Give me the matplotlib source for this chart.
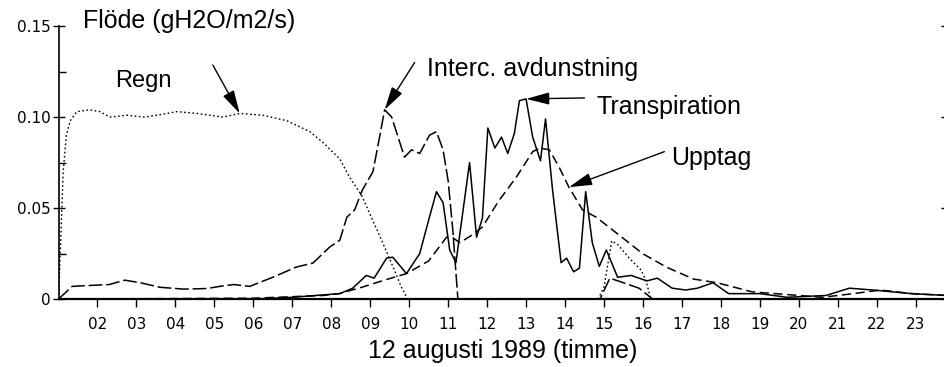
import matplotlib
matplotlib.use('Agg')
import matplotlib.pyplot as plt
from matplotlib.ticker import MultipleLocator

# hourly fluxes, 12 August 1989 (gH2O/m2/s)
rain_h = [1.0, 1.06, 1.12, 1.2, 1.3, 1.47, 1.8, 2.06, 2.32, 2.76, 3.2, 3.53, 4.04, 4.55,
          5.22, 5.65, 6.25, 6.86, 7.45, 7.79, 8.22, 8.47, 8.78, 9.07, 9.32, 9.58, 9.8, 9.96,
          14.85, 15.0, 15.2, 15.35, 15.65, 15.95, 16.08, 16.2]
rain_v = [0.0, 0.035, 0.07, 0.09, 0.098, 0.103, 0.104, 0.103, 0.100, 0.101, 0.100, 0.101, 0.103, 0.102,
          0.100, 0.102, 0.101, 0.098, 0.092, 0.086, 0.077, 0.067, 0.057, 0.043, 0.031, 0.018, 0.0066, 0.0,
          0.0, 0.0066, 0.032, 0.030, 0.0225, 0.016, 0.010, 0.0]

interc_h = [1.0, 1.35, 1.8, 2.3, 2.7, 3.1, 3.6, 4.2, 4.8, 5.2, 5.5, 5.91, 6.5, 7.1, 7.53,
            7.96, 8.22, 8.4, 8.6, 8.8, 9.07, 9.24, 9.37, 9.55, 9.88, 10.06, 10.27, 10.52, 10.7,
            10.87, 11.0, 11.12, 11.25, 14.9, 15.15, 15.5, 15.9, 16.25]
interc_v = [0.0, 0.007, 0.0075, 0.008, 0.0104, 0.009, 0.0065, 0.0055, 0.0058, 0.0072, 0.008, 0.007, 0.012, 0.0176, 0.0198,
            0.0286, 0.0324, 0.045, 0.049, 0.060, 0.070, 0.089, 0.104, 0.100, 0.078, 0.082, 0.080, 0.090, 0.092,
            0.082, 0.065, 0.038, 0.0, 0.0, 0.0115, 0.009, 0.006, 0.0]

transp_h = [1.0, 6.0, 7.0, 7.6, 8.22, 8.55, 8.9, 9.1, 9.42, 9.58, 9.93, 10.27, 10.52, 10.7,
            10.87, 11.04, 11.2, 11.55, 11.73, 11.88, 12.02, 12.2, 12.37, 12.53, 12.7, 12.83, 13.0,
            13.17, 13.37, 13.5, 13.68, 13.9, 14.04, 14.22, 14.37, 14.53, 14.7, 14.88, 15.06, 15.35,
            15.7, 16.1, 16.37, 16.75, 17.1, 17.4, 17.8, 18.2, 19.0, 19.7, 20.7, 21.3, 21.9, 22.9, 23.8]
transp_v = [0.0, 0.0, 0.001, 0.002, 0.003, 0.006, 0.013, 0.0115, 0.0225, 0.023, 0.014, 0.025, 0.045, 0.059,
            0.053, 0.027, 0.020, 0.075, 0.034, 0.0445, 0.094, 0.083, 0.089, 0.080, 0.091, 0.109, 0.110,
            0.089, 0.076, 0.099, 0.060, 0.020, 0.0225, 0.015, 0.017, 0.059, 0.031, 0.018, 0.027, 0.012,
            0.013, 0.010, 0.0115, 0.006, 0.005, 0.006, 0.009, 0.003, 0.003, 0.001, 0.002, 0.006, 0.005, 0.003, 0.002]

uptake_h = [1.0, 6.0, 7.2, 7.8, 8.2, 8.8, 9.3, 9.93, 10.5, 10.96, 11.1, 11.3, 11.6, 11.88, 12.3,
            12.75, 13.17, 13.35, 13.6, 13.86, 14.1, 14.45, 14.8, 15.4, 15.99, 16.6, 17.3, 17.9, 18.8,
            20.0, 20.6, 21.4, 22.1, 22.9, 23.8]
uptake_v = [0.0, 0.0005, 0.0015, 0.002, 0.003, 0.0066, 0.010, 0.014, 0.021, 0.034, 0.034, 0.031, 0.035, 0.0396, 0.054,
            0.067, 0.081, 0.083, 0.082, 0.072, 0.0615, 0.049, 0.045, 0.035, 0.025, 0.0176, 0.011, 0.009, 0.004,
            0.002, 0.001, 0.003, 0.005, 0.003, 0.002]

hours = list(range(2, 24))
hour_labels = [f'{h:02d}' for h in hours]

txt_font = 'Liberation Sans'
tick_font = 'DejaVu Sans'

fig = plt.figure(figsize=(9.44, 3.67), dpi=100)
ax = fig.add_axes([0.062, 0.185, 0.941, 0.744])

ax.plot(rain_h, rain_v, color='black', lw=1.0, linestyle=(0, (1.2, 1.8)))
ax.plot(interc_h, interc_v, color='black', lw=1.1, linestyle=(0, (9, 2.5)))
ax.plot(transp_h, transp_v, color='black', lw=1.1, linestyle='-')
ax.plot(uptake_h, uptake_v, color='black', lw=1.1, linestyle=(0, (6, 3)))

ax.set_xlim(1, 23.8)
ax.set_ylim(0, 0.15)

ax.spines['top'].set_visible(False)
ax.spines['right'].set_visible(False)
ax.spines['left'].set_linewidth(1.2)
ax.spines['bottom'].set_linewidth(1.6)

ax.set_xticks(hours)
ax.set_xticklabels(hour_labels, fontfamily=tick_font, fontsize=11)
ax.tick_params(axis='x', direction='out', length=6, width=1, pad=7)

ax.set_yticks([0, 0.05, 0.10, 0.15])
ax.set_yticklabels(['0', '0.05', '0.10', '0.15'], fontfamily=tick_font, fontsize=11)
ax.yaxis.set_minor_locator(MultipleLocator(0.025))
ax.tick_params(axis='y', which='major', direction='inout', length=9, width=1, pad=1,
               right=True)
ax.tick_params(axis='y', which='minor', direction='in', length=5, width=1)

ax.set_xlabel('12 augusti 1989 (timme)', fontfamily=txt_font, fontsize=18, labelpad=5)
ax.text(1.63, 0.1492, 'Flöde (gH2O/m2/s)', fontfamily=txt_font, fontsize=18,
        va='baseline', ha='left', clip_on=False)

arrow = dict(arrowstyle='-|>,head_length=0.95,head_width=0.25', mutation_scale=15,
             color='black', lw=1.0, shrinkA=0, shrinkB=0)

ax.text(2.45, 0.1165, 'Regn', fontfamily=txt_font, fontsize=17, va='baseline', ha='left')
ax.annotate('', xy=(rain_h[15], rain_v[15]), xytext=(4.96, 0.1286), arrowprops=arrow)

ax.text(10.47, 0.1228, 'Interc. avdunstning', fontfamily=txt_font, fontsize=18,
        va='baseline', ha='left')
ax.annotate('', xy=(interc_h[22], interc_v[22]), xytext=(10.14, 0.130), arrowprops=arrow)

ax.text(14.8, 0.1015, 'Transpiration', fontfamily=txt_font, fontsize=18,
        va='baseline', ha='left')
ax.annotate('', xy=(transp_h[26], transp_v[26]), xytext=(14.5, 0.1105), arrowprops=arrow)

ax.text(16.73, 0.0737, 'Upptag', fontfamily=txt_font, fontsize=18,
        va='baseline', ha='left')
ax.annotate('', xy=(uptake_h[20], uptake_v[20]), xytext=(16.55, 0.081), arrowprops=arrow)

fig.savefig('out.png', dpi=100)
